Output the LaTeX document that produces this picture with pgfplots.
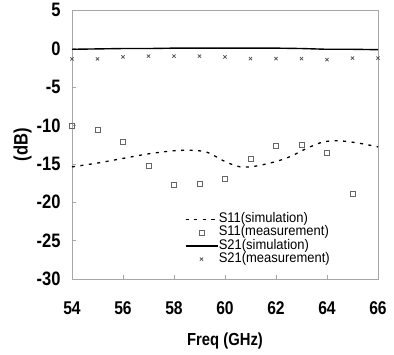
\documentclass[border=0pt]{standalone}
\usepackage{pgfplots}
\pgfplotsset{compat=1.18}
\usepackage{fontspec}
\setmainfont[FakeStretch=0.85]{Liberation Sans}
\newfontfamily\legfont[FakeStretch=0.93]{Liberation Sans}
\begin{document}
\begin{tikzpicture}[x=1bp,y=1bp]
\begin{axis}[
  scale only axis, width=306bp, height=269bp,
  xmin=54, xmax=66, ymin=-30, ymax=5,
  xtick={54,56,...,66}, ytick={-30,-25,...,5},
  /pgf/number format/assume math mode=true,
  xticklabel style={font=\fontsize{18.5}{20}\selectfont\bfseries, yshift=-19bp},
  yticklabel style={font=\fontsize{19.5}{21}\selectfont\bfseries, xshift=-8bp},
  xlabel={Freq (GHz)}, ylabel={(dB)},
  xlabel style={font=\fontsize{17.5}{19}\selectfont\bfseries, yshift=-11bp},
  ylabel style={font=\fontsize{19.5}{21}\selectfont\bfseries, yshift=-2bp},
  axis line style={gray!70, line width=0.8pt},
  tick style={gray!70, line width=0.6pt},
  tick align=inside, major tick length=4bp,
  xtick pos=bottom, ytick pos=left,
  legend image code/.code={\draw[mark repeat=2,mark phase=2,#1] plot coordinates {(0bp,0bp)(16bp,0bp)(32bp,0bp)};},
  legend style={draw=none, fill=none, at={(0.365,0.045)}, anchor=south west,
    font=\legfont\fontsize{14}{12}\selectfont, row sep=0bp, inner sep=1pt,
    nodes={text height=9.6bp, text depth=2.7bp, inner sep=0.5bp}},
  legend cell align=left,
  clip=false,
]
\addplot[black, dash pattern=on 3bp off 5.5bp, line width=1.3pt, smooth] coordinates {
(54,-15.4) (55,-14.9) (56,-14.3) (57,-13.7) (58,-13.3) (58.7,-13.25) (59.3,-13.5) (60,-14.7) (60.6,-15.4) (61.2,-15.3) (62,-14.7) (62.6,-14.0) (63.2,-13.0) (63.8,-12.2) (64.3,-12.0) (64.8,-12.1) (65.4,-12.4) (66,-12.8)
};
\addlegendentry{S11(simulation)}
\addplot[only marks, mark=square, mark size=2.5bp, gray!80!black, mark options={line width=0.6pt}] coordinates {
(54,-10.1) (55,-10.6) (56,-12.1) (57,-15.2) (58,-17.7) (59,-17.6) (60,-16.9) (61,-14.4) (62,-12.7) (63,-12.5) (64,-13.6) (65,-18.9)
};
\addlegendentry{S11(measurement)}
\addplot[black, line width=1.4pt] coordinates {
(54,-0.1) (55,-0.05) (56,0) (57,0) (58,0.05) (59,0.05) (60,0.05) (61,0.05) (62,0.05) (63,0) (64,-0.1) (65,-0.1) (66,-0.15)
};
\addlegendentry{S21(simulation)}
\addplot[only marks, mark=x, mark size=2.3bp, gray!60!black, mark options={line width=0.7pt}] coordinates {
(54,-1.35) (55,-1.35) (56,-1.1) (57,-1.0) (58,-1.0) (59,-1.0) (60,-1.1) (61,-1.3) (62,-1.3) (63,-1.3) (64,-1.45) (65,-1.25) (66,-1.25)
};
\addlegendentry{S21(measurement)}
\path (rel axis cs:0,0) ++(-72bp,-75bp) coordinate (bbA);
\path (rel axis cs:1,1) ++(16bp,8bp) coordinate (bbB);
\end{axis}
\useasboundingbox (bbA) rectangle (bbB);
\end{tikzpicture}
\end{document}
